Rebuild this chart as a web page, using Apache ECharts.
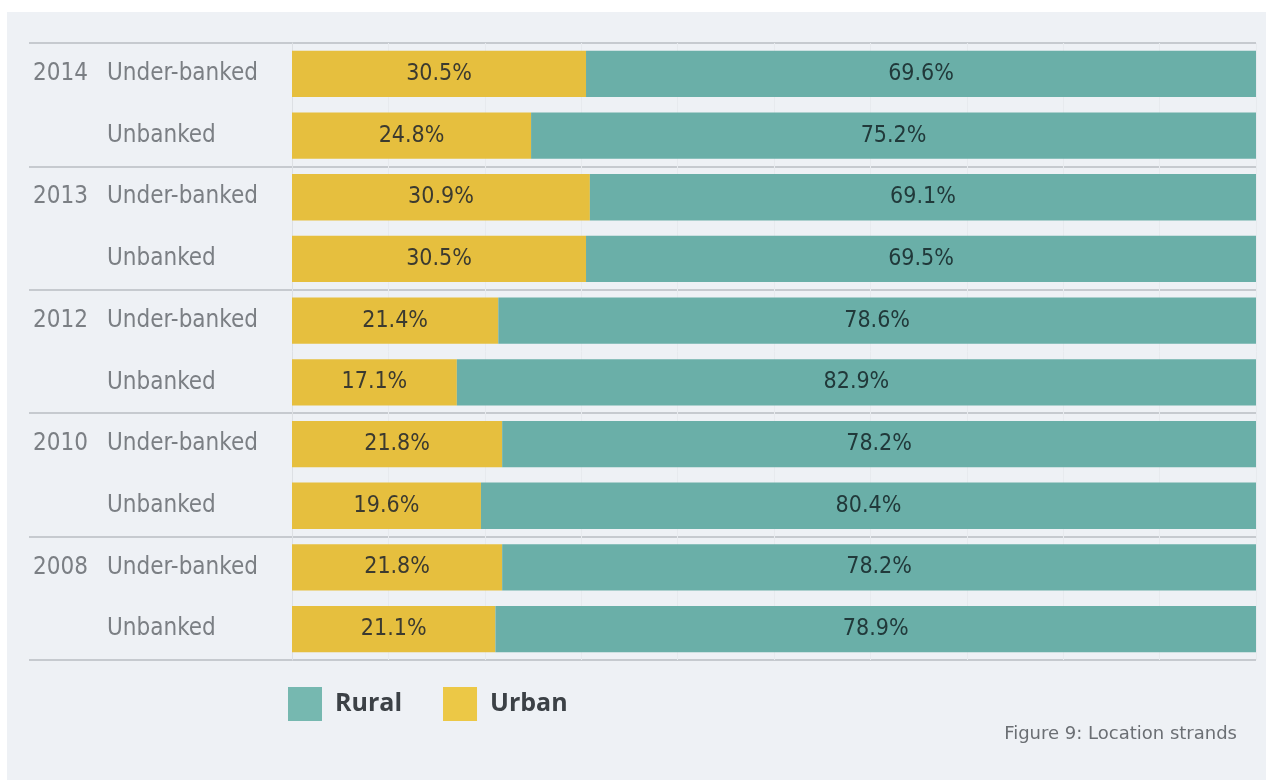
<!DOCTYPE html>
<html>
<head>
<meta charset="utf-8">
<script src="https://cdn.jsdelivr.net/npm/echarts@6/dist/echarts.min.js"></script>
<style>
  html, body { margin: 0; padding: 0; background: #ffffff; }
  #panel { position: absolute; left: 7px; top: 12px; width: 1259px; height: 768px; background: #eef1f5; }
  #chart { position: absolute; left: 0; top: 0; width: 1266px; height: 780px; }
</style>
</head>
<body>
<div id="panel"></div>
<div id="chart"></div>
<script>
// Survey years (top to bottom) and the two household groups per year
const years = ['2014', '2013', '2012', '2010', '2008'];
const groups = ['Under-banked', 'Unbanked'];

// Share of households by location, in row order (year x group)
const urban = [30.5, 24.8, 30.9, 30.5, 21.4, 17.1, 21.8, 19.6, 21.8, 21.1];
const rural = [69.6, 75.2, 69.1, 69.5, 78.6, 82.9, 78.2, 80.4, 78.2, 78.9];

const seriesNames = ['Urban', 'Rural'];
const legendOrder = ['Rural', 'Urban'];
const caption = 'Figure 9: Location strands';

// one unique key per row: "year|group"
const rows = [];
years.forEach(y => groups.forEach(g => rows.push(y + '|' + g)));

const labelFont = 'DejaVu Sans Condensed, DejaVu Sans, sans-serif';
const sepColor = '#b9bdc2';
const groupBoundary = (i) => i % groups.length === 0;

// bar fills, and the slightly brighter swatches used in the key
const barColors = { Urban: '#e6bf3e', Rural: '#6aafa8' };
const keyColors = { Urban: '#ecc846', Rural: '#76b8b0' };

const chart = echarts.init(document.getElementById('chart'), null, { renderer: 'canvas' });

chart.setOption({
  backgroundColor: 'transparent',
  animation: false,
  title: {
    text: caption,
    right: 24,
    top: 720,
    textStyle: { fontFamily: 'DejaVu Sans, sans-serif', fontSize: 18, fontWeight: 'normal', color: '#6b6f74' }
  },
  legend: {
    data: legendOrder.map(n => ({ name: n, itemStyle: { color: keyColors[n] } })),
    left: 283,
    top: 682,
    icon: 'rect',
    itemWidth: 34,
    itemHeight: 34,
    itemGap: 41,
    textStyle: {
      fontFamily: 'Open Sans, sans-serif',
      fontSize: 25,
      fontWeight: 'bold',
      color: '#3c4146',
      padding: [0, 0, 0, 8]
    }
  },
  grid: { left: 292, right: 10, top: 43, bottom: 120, containLabel: false },
  xAxis: {
    type: 'value',
    min: 0,
    max: 100,
    interval: 10,
    axisLabel: { show: false },
    axisLine: { show: false },
    axisTick: { show: false },
    splitLine: { show: true, lineStyle: { color: '#e7eaee', width: 1 } }
  },
  yAxis: [
    {
      type: 'category',
      data: rows,
      inverse: true,
      axisLine: { show: true, lineStyle: { color: '#dde0e4', width: 1 } },
      axisTick: {
        show: true,
        interval: groupBoundary,
        length: 263,
        lineStyle: { color: sepColor, width: 1.5 }
      },
      splitLine: {
        show: true,
        interval: groupBoundary,
        lineStyle: { color: sepColor, width: 1.5 }
      },
      axisLabel: {
        align: 'left',
        margin: 185,
        fontFamily: labelFont,
        fontSize: 24,
        color: '#7b7f84',
        formatter: (v) => v.split('|')[1]
      }
    },
    {
      type: 'category',
      data: rows,
      inverse: true,
      position: 'left',
      axisLine: { show: false },
      axisTick: { show: false },
      splitLine: { show: false },
      axisLabel: {
        align: 'left',
        margin: 259,
        fontFamily: labelFont,
        fontSize: 24,
        color: '#7b7f84',
        formatter: (v) => {
          const p = v.split('|');
          return p[1] === groups[0] ? p[0] : '';
        }
      }
    }
  ],
  series: [
    {
      name: seriesNames[0],
      type: 'bar',
      stack: 'share',
      data: urban,
      barCategoryGap: '25%',
      itemStyle: { color: barColors.Urban },
      label: {
        show: true,
        position: 'inside',
        fontFamily: labelFont,
        fontSize: 23,
        color: '#3b3a30',
        formatter: (p) => p.value.toFixed(1) + '%'
      }
    },
    {
      name: seriesNames[1],
      type: 'bar',
      stack: 'share',
      data: rural,
      barCategoryGap: '25%',
      itemStyle: { color: barColors.Rural },
      label: {
        show: true,
        position: 'inside',
        fontFamily: labelFont,
        fontSize: 23,
        color: '#21393a',
        formatter: (p) => p.value.toFixed(1) + '%'
      }
    }
  ]
});
</script>
</body>
</html>
